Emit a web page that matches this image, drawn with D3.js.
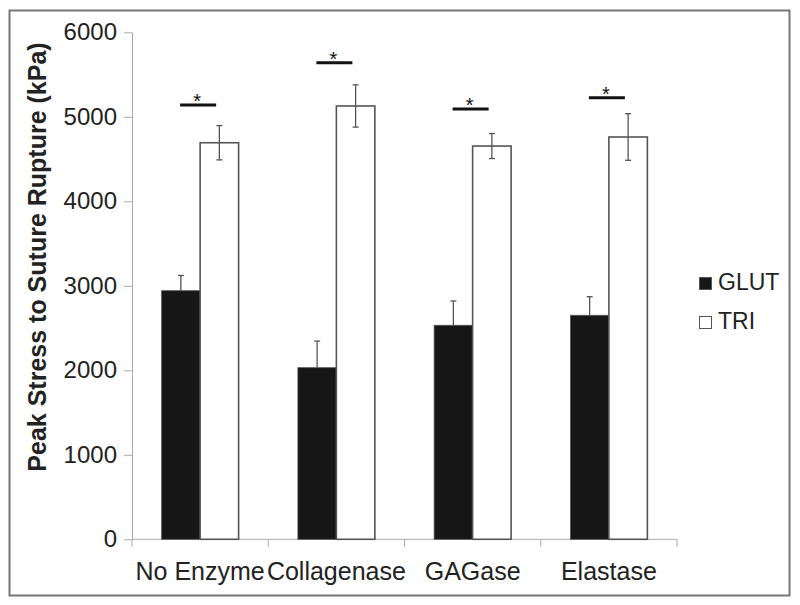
<!DOCTYPE html>
<html>
<head>
<meta charset="utf-8">
<script src="https://cdn.jsdelivr.net/npm/d3@7"></script>
<style>
body{margin:0;background:#fff;}
text{font-family:"Liberation Sans",Arial,Helvetica,sans-serif;}
</style>
</head>
<body>
<script>
var w = 800, h = 605;
var categories = ["No Enzyme", "Collagenase", "GAGase", "Elastase"];
var series = ["GLUT", "TRI"];
var glutValues = [2942, 2031, 2533, 2651];
var glutErrors = [180, 315, 287, 220];
var triValues = [4693, 5128, 4654, 4761];
var triErrors = [203, 250, 148, 276];
var sigHeights = [5140, 5640, 5093, 5226];
var yTicks = [0, 1000, 2000, 3000, 4000, 5000, 6000];

var svg = d3.select("body")
	.append("svg")
		.attr("width", w)
		.attr("height", h);

// outer frame
svg.append("rect")
	.attr("x", 9.5).attr("y", 10.5)
	.attr("width", 780).attr("height", 585)
	.attr("fill", "none")
	.attr("stroke", "#777")
	.attr("stroke-width", 2);

var x = d3.scaleBand().domain(categories).range([132, 677]);
var bw = x.bandwidth();
var x1 = d3.scaleBand().domain(series).range([bw * 0.2175, bw * 0.7825]);
var y = d3.scaleLinear().domain([0, 6000]).range([539.3, 32.3]);

// y axis
var yAxis = svg.append("g")
	.attr("transform", "translate(132,0)")
	.call(d3.axisLeft(y).tickValues(yTicks).tickSize(8).tickSizeOuter(0).tickPadding(7).tickFormat(d3.format("d")));
yAxis.select(".domain").attr("stroke", "#aaa");
yAxis.selectAll(".tick line").attr("stroke", "#aaa");
yAxis.selectAll("text")
	.attr("font-size", 24)
	.attr("fill", "#222")
	.style("font-family", "'Liberation Sans',Arial,sans-serif");

// x axis
var xg = svg.append("g");
xg.append("line")
	.attr("x1", x.range()[0]).attr("x2", x.range()[1])
	.attr("y1", y(0)).attr("y2", y(0))
	.attr("stroke", "#aaa");
var bounds = categories.map(function(c){ return x(c); }).concat([x.range()[1]]);
xg.selectAll("line.tk")
	.data(bounds)
	.enter()
	.append("line")
		.attr("class", "tk")
		.attr("x1", function(d){ return d; })
		.attr("x2", function(d){ return d; })
		.attr("y1", y(0))
		.attr("y2", y(0) + 7.5)
		.attr("stroke", "#aaa");
xg.selectAll("text")
	.data(categories)
	.enter()
	.append("text")
		.attr("x", function(d){ return x(d) + bw / 2; })
		.attr("y", 580)
		.attr("text-anchor", "middle")
		.attr("font-size", 25)
		.attr("fill", "#222")
		.text(function(d){ return d; });

// y title
svg.append("text")
	.attr("transform", "translate(46,257) rotate(-90)")
	.attr("text-anchor", "middle")
	.attr("font-size", 25)
	.attr("font-weight", "bold")
	.attr("fill", "#222")
	.text("Peak Stress to Suture Rupture (kPa)");

var rows = categories.map(function(c, i){
	return {cat: c, glut: glutValues[i], glutErr: glutErrors[i], tri: triValues[i], triErr: triErrors[i], sig: sigHeights[i]};
});

// bars
var groups = svg.selectAll("g.cat")
	.data(rows)
	.enter()
	.append("g")
		.attr("class", "cat")
		.attr("transform", function(d){ return "translate(" + x(d.cat) + ",0)"; });

groups.append("rect")
	.attr("x", x1("GLUT"))
	.attr("y", function(d){ return y(d.glut); })
	.attr("width", x1.bandwidth())
	.attr("height", function(d){ return y(0) - y(d.glut); })
	.attr("fill", "#161616")
	.attr("stroke", "#555")
	.attr("stroke-width", 0.8);

groups.append("rect")
	.attr("x", x1("TRI"))
	.attr("y", function(d){ return y(d.tri); })
	.attr("width", x1.bandwidth())
	.attr("height", function(d){ return y(0) - y(d.tri); })
	.attr("fill", "#fff")
	.attr("stroke", "#555")
	.attr("stroke-width", 1.6);

// error bars: GLUT up only, TRI both ways
var cap = 3;
groups.each(function(d){
	var g = d3.select(this);
	var cx = x1("GLUT") + x1.bandwidth() / 2;
	g.append("line").attr("x1", cx).attr("x2", cx)
		.attr("y1", y(d.glut)).attr("y2", y(d.glut + d.glutErr))
		.attr("stroke", "#555").attr("stroke-width", 1.3);
	g.append("line").attr("x1", cx - cap).attr("x2", cx + cap)
		.attr("y1", y(d.glut + d.glutErr)).attr("y2", y(d.glut + d.glutErr))
		.attr("stroke", "#555").attr("stroke-width", 1.3);

	var tx = x1("TRI") + x1.bandwidth() / 2;
	g.append("line").attr("x1", tx).attr("x2", tx)
		.attr("y1", y(d.tri - d.triErr)).attr("y2", y(d.tri + d.triErr))
		.attr("stroke", "#555").attr("stroke-width", 1.3);
	[d.tri - d.triErr, d.tri + d.triErr].forEach(function(v){
		g.append("line").attr("x1", tx - cap).attr("x2", tx + cap)
			.attr("y1", y(v)).attr("y2", y(v))
			.attr("stroke", "#555").attr("stroke-width", 1.3);
	});

	// significance line and star
	var mid = bw / 2 - 2;
	g.append("line").attr("x1", mid - 18).attr("x2", mid + 18)
		.attr("y1", y(d.sig)).attr("y2", y(d.sig))
		.attr("stroke", "#111").attr("stroke-width", 3);
	g.append("text")
		.attr("x", mid - 1)
		.attr("y", y(d.sig) + 3)
		.attr("text-anchor", "middle")
		.attr("font-size", 20)
		.attr("fill", "#111")
		.text("*");
});

// legend
var legend = svg.selectAll("g.leg")
	.data(series)
	.enter()
	.append("g")
		.attr("class", "leg")
		.attr("transform", function(d, i){ return "translate(699," + (277 + i * 39) + ")"; });
legend.append("rect")
	.attr("x", 0.5).attr("y", 0.5)
	.attr("width", 12).attr("height", 12)
	.attr("fill", function(d){ return d == "GLUT" ? "#161616" : "#fff"; })
	.attr("stroke", "#555")
	.attr("stroke-width", 1);
legend.append("text")
	.attr("x", 19)
	.attr("y", 13)
	.attr("font-size", 23)
	.attr("fill", "#222")
	.text(function(d){ return d; });
</script>
</body>
</html>
